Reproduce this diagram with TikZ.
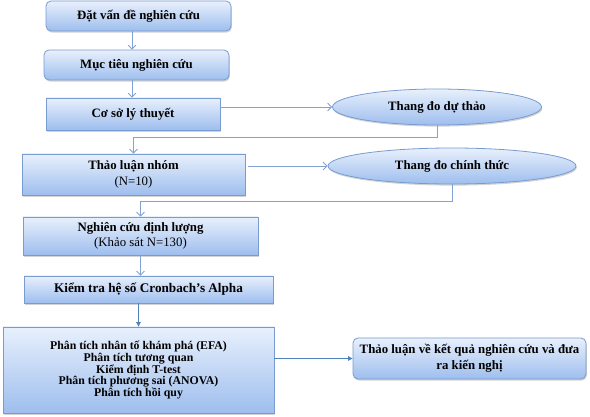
\documentclass[tikz,border=0pt]{standalone}
\usepackage{fontspec}
\setmainfont{Liberation Serif}
\usetikzlibrary{shapes.geometric,shadows,arrows.meta}
\definecolor{topc}{RGB}{232,240,252}
\definecolor{botc}{RGB}{158,190,238}
\definecolor{bordc}{RGB}{120,155,208}
\definecolor{linec}{RGB}{130,162,212}
\definecolor{darkc}{RGB}{79,129,189}
\tikzset{
  boxbase/.style={draw=bordc, line width=0.8pt, top color=topc, bottom color=botc,
    align=center, inner sep=2pt, font=\fontsize{12.8}{15.5}\selectfont\bfseries,
    drop shadow={opacity=0.35, shadow xshift=0.8pt, shadow yshift=-1.6pt}},
  rbox/.style={boxbase, rectangle, rounded corners=5pt},
  sbox/.style={boxbase, rectangle},
  ell/.style={boxbase, ellipse, inner sep=0pt},
  conn/.style={draw=linec, line width=0.8pt, -{Straight Barb[length=4pt,width=8pt]}},
  fconn/.style={draw=darkc, line width=0.9pt, -{Triangle[length=4.5pt,width=4.5pt]}},
}
\begin{document}
\begin{tikzpicture}[x=1pt,y=-1pt]
\path[use as bounding box] (0,0) rectangle (590,417);

\node[rbox, minimum width=185pt, minimum height=30pt] (b1) at (138.5,16) {Đặt vấn đề nghiên cứu};
\node[rbox, minimum width=185pt, minimum height=30pt] (b2) at (136.5,65) {Mục tiêu nghiên cứu};
\node[sbox, minimum width=174pt, minimum height=32pt] (b3) at (133,114) {Cơ sở lý thuyết};
\node[ell, minimum width=209pt, minimum height=36pt] (e1) at (437,107) {Thang đo dự thảo};
\node[sbox, minimum width=223pt, minimum height=41pt] (b4) at (133.5,174.5) {Thảo luận nhóm\\{\mdseries (N=10)}};
\node[ell, minimum width=248pt, minimum height=36pt] (e2) at (452,166) {Thang đo chính thức};
\node[sbox, minimum width=235pt, minimum height=38pt] (b5) at (140.5,236) {Nghiên cứu định lượng\\{\mdseries (Khảo sát N=130)}};
\node[sbox, minimum width=249pt, minimum height=27pt, font=\fontsize{13.2}{15}\selectfont\bfseries] (b6) at (148.5,289.5) {Kiểm tra hệ số Cronbach’s Alpha};
\node[sbox, minimum width=271pt, minimum height=86pt, font=\fontsize{11.8}{11.8}\selectfont\bfseries] (b7) at (138.5,370) {Phân tích nhân tố khám phá (EFA)\\Phân tích tương quan\\Kiểm định T-test\\Phân tích phương sai (ANOVA)\\Phân tích hồi quy};
\node[rbox, minimum width=233pt, minimum height=41pt] (b8) at (469.5,358.5) {Thảo luận về kết quả nghiên cứu và đưa\\ra kiến nghị};

\coordinate (x1) at (132,0);
\coordinate (j1) at (0,137);
\coordinate (j2) at (0,201);

\draw[conn] (b1.south -| x1) -- (b2.north -| x1);
\draw[conn] (b2.south -| x1) -- (b3.north -| x1);
\draw[conn] (b3.east |- e1.west) -- (e1.west);
\draw[conn] (e1.south) |- (b4.north |- j1) -- (b4.north);
\draw[conn] ([xshift=3pt]b4.east |- e2.west) -- (e2.west);
\draw[conn] (e2.south) |- (b5.north |- j2) -- (b5.north);
\draw[conn] (b5.south) -- (b6.north -| b5.south);
\draw[fconn] (b6.south -| b7.north) -- (b7.north);
\draw[fconn] (b7.east |- b8.west) -- (b8.west);
\end{tikzpicture}
\end{document}
